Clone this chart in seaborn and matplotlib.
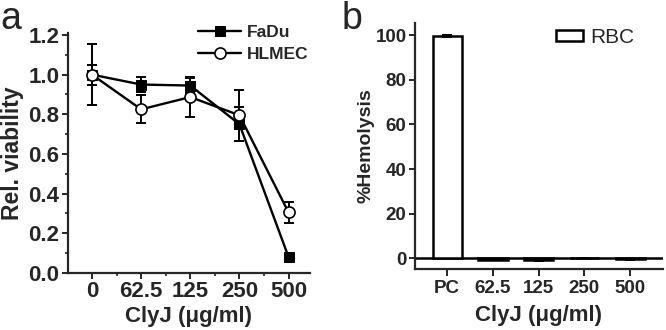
import numpy as np
import pandas as pd
import seaborn as sns
import matplotlib.pyplot as plt
from matplotlib.ticker import MultipleLocator

# panel a: relative viability
conc_a = ["0", "62.5", "125", "250", "500"]
fadu = [1.00, 0.95, 0.945, 0.75, 0.08]
fadu_err = [0.05, 0.04, 0.04, 0.085, 0.0]
hlmec = [1.00, 0.825, 0.887, 0.795, 0.305]
hlmec_err = [0.155, 0.07, 0.10, 0.13, 0.055]

# panel b: hemolysis
conc_b = ["PC", "62.5", "125", "250", "500"]
hemolysis = [99.6, -0.6, -0.7, 0.0, -0.4]
hemolysis_err = [0.4, 0.4, 0.4, 0.0, 0.2]

sns.set_style("ticks")
plt.rcParams["font.family"] = ["Liberation Sans", "DejaVu Sans"]
plt.rcParams["axes.linewidth"] = 1.6

fig = plt.figure(figsize=(6.66, 3.30), dpi=100)
ax1 = fig.add_axes([0.102, 0.173, 0.363, 0.727])
ax2 = fig.add_axes([0.623, 0.185, 0.372, 0.745])

# ---- a ----
pos = np.arange(len(conc_a))
df = pd.DataFrame({"pos": np.concatenate([pos, pos]),
                   "val": fadu + hlmec,
                   "cell": ["FaDu"] * 5 + ["HLMEC"] * 5})
sns.lineplot(data=df[df.cell == "FaDu"], x="pos", y="val", color="black", lw=1.7,
             marker="s", markersize=7, markerfacecolor="black", markeredgecolor="black",
             label="FaDu", ax=ax1, zorder=3)
sns.lineplot(data=df[df.cell == "HLMEC"], x="pos", y="val", color="black", lw=1.7,
             marker="o", markersize=8, markerfacecolor="white", markeredgecolor="black",
             markeredgewidth=1.2, label="HLMEC", ax=ax1, zorder=4)
ax1.errorbar(pos, fadu, yerr=fadu_err, fmt="none", ecolor="black", elinewidth=1.4,
             capsize=3.5, capthick=1.4, zorder=2)
ax1.errorbar(pos, hlmec, yerr=hlmec_err, fmt="none", ecolor="black", elinewidth=1.4,
             capsize=3.5, capthick=1.4, zorder=2)

ax1.set_xlim(-0.49, 4.43)
ax1.set_ylim(0, 1.21)
ax1.set_xticks(pos)
ax1.set_xticklabels(conc_a)
ax1.xaxis.set_minor_locator(MultipleLocator(0.5))
ax1.yaxis.set_major_locator(MultipleLocator(0.2))
ax1.yaxis.set_minor_locator(MultipleLocator(0.1))
ax1.set_yticklabels([f"{v:.1f}" for v in ax1.get_yticks()])
ax1.tick_params(which="major", length=4, width=1.4, labelsize=16, pad=2)
ax1.tick_params(which="minor", length=2.5, width=1.2)
for lab in ax1.get_xticklabels() + ax1.get_yticklabels():
    lab.set_fontweight("bold")
ax1.set_xlabel("ClyJ (\u03bcg/ml)", fontsize=16, fontweight="bold", labelpad=3)
ax1.set_ylabel("Rel. viability", fontsize=16.5, fontweight="bold", labelpad=3)
sns.despine(ax=ax1)
ax1.legend(loc="upper left", bbox_to_anchor=(0.297, 0.924), bbox_transform=fig.transFigure,
           frameon=False, prop={"weight": "bold", "size": 12.5}, handlelength=2.5,
           handletextpad=0.35, labelspacing=0.38, borderaxespad=0, borderpad=0)

# ---- b ----
dfb = pd.DataFrame({"conc": conc_b, "val": hemolysis, "cell": ["RBC"] * 5})
sns.barplot(data=dfb, x="conc", y="val", hue="cell", palette={"RBC": "white"},
            order=conc_b, edgecolor="black", linewidth=1.8, width=0.64, dodge=False,
            ax=ax2, zorder=2)
ax2.errorbar(np.arange(len(conc_b)), hemolysis, yerr=hemolysis_err, fmt="none",
             ecolor="black", elinewidth=1.4, capsize=3.5, capthick=1.4, zorder=3)
ax2.axhline(0, color="black", lw=1.8, zorder=1)
ax2.set_xlim(-0.705, 4.71)
ax2.set_ylim(-4.8, 105.4)
ax2.set_yticks([0, 20, 40, 60, 80, 100])
ax2.tick_params(axis="y", length=4.5, width=1.4, labelsize=13.5, pad=1.5)
ax2.tick_params(axis="x", length=5, width=1.4, labelsize=13.5, pad=3)
for lab in ax2.get_xticklabels() + ax2.get_yticklabels():
    lab.set_fontweight("bold")
ax2.set_xlabel("ClyJ (\u03bcg/ml)", fontsize=16, fontweight="bold", labelpad=6)
ax2.set_ylabel("%Hemolysis", fontsize=14, fontweight="bold", labelpad=1)
sns.despine(ax=ax2)
ax2.legend(loc="upper left", bbox_to_anchor=(0.835, 0.915), bbox_transform=fig.transFigure,
           frameon=False, fontsize=15, handlelength=1.3, handleheight=0.48,
           handletextpad=0.35, borderaxespad=0, borderpad=0)

fig.text(0.0, 0.998, "a", fontsize=27, va="top", ha="left")
fig.text(0.513, 0.998, "b", fontsize=27, va="top", ha="left")

fig.savefig("out.png", dpi=100)
